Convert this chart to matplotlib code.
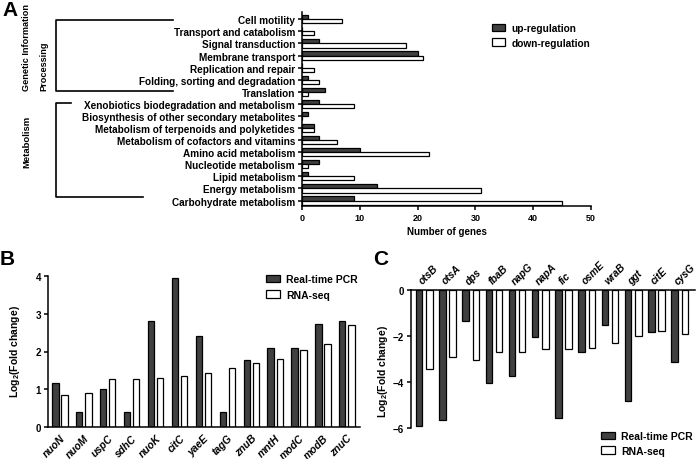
import matplotlib

matplotlib.use("Agg")
import matplotlib.pyplot as plt  # noqa: E402
import numpy as np  # noqa: E402
from matplotlib.lines import Line2D  # noqa: E402
from matplotlib.patches import Patch  # noqa: E402
from matplotlib.transforms import ScaledTranslation  # noqa: E402

W, H = 696, 460

# panel A: KEGG categories, top to bottom
KEGG_TERMS = [
    "Cell motility", "Transport and catabolism", "Signal transduction",
    "Membrane transport", "Replication and repair", "Folding, sorting and degradation",
    "Translation", "Xenobiotics biodegradation and metabolism",
    "Biosynthesis of other secondary metabolites", "Metabolism of terpenoids and polyketides",
    "Metabolism of cofactors and vitamins", "Amino acid metabolism", "Nucleotide metabolism",
    "Lipid metabolism", "Energy metabolism", "Carbohydrate metabolism",
]
KEGG_UP = [1, 0, 3, 20, 0, 1, 4, 3, 1, 2, 3, 10, 3, 1, 13, 9]
KEGG_DOWN = [7, 2, 18, 21, 2, 3, 1, 9, 0, 2, 6, 22, 1, 9, 31, 45]
A_TICKS = [0, 10, 20, 30, 40, 50]

# panel B: up-regulated genes
B_GENES = ["nuoN", "nuoM", "uspC", "sdhC", "nuoK", "citC", "yaeE",
           "tagG", "znuB", "mntH", "modC", "modB", "znuC"]
B_PCR = [1.17, 0.4, 1.0, 0.4, 2.8, 3.94, 2.41, 0.4, 1.77, 2.08, 2.1, 2.74, 2.82]
B_RNASEQ = [0.84, 0.9, 1.28, 1.28, 1.3, 1.36, 1.42, 1.56, 1.69, 1.81, 2.05, 2.19, 2.7]
B_TICKS = [0, 1, 2, 3, 4]

# panel C: down-regulated genes
C_GENES = ["otsB", "otsA", "dps", "fbaB", "napG", "napA", "fic",
           "osmE", "wraB", "ggt", "citE", "cysG"]
C_PCR = [-5.9, -5.65, -1.36, -4.03, -3.74, -2.06, -5.58, -2.68, -1.54, -4.81, -1.83, -3.13]
C_RNASEQ = [-3.43, -2.9, -3.04, -2.71, -2.71, -2.55, -2.57, -2.5, -2.3, -1.99, -1.8, -1.93]
C_TICKS = [0, -2, -4, -6]

DARK = "#404040"
EDGE = dict(edgecolor="black", linewidth=0.9)

plt.rcParams["font.family"] = ["Liberation Sans", "DejaVu Sans"]
plt.rcParams["font.weight"] = "bold"
plt.rcParams["axes.labelweight"] = "bold"
plt.rcParams["mathtext.fontset"] = "custom"
plt.rcParams["mathtext.rm"] = "Liberation Sans:bold"
plt.rcParams["mathtext.bf"] = "Liberation Sans:bold"
plt.rcParams["axes.linewidth"] = 1.1
plt.rcParams["xtick.major.width"] = 1.1
plt.rcParams["ytick.major.width"] = 1.1


def box(l, t, r, b):
    # pixel rectangle -> figure fraction [left, bottom, width, height]
    return [l / W, 1 - b / H, (r - l) / W, (b - t) / H]


def fx(x):
    return x / W


def fy(y):
    return 1 - y / H


def legend_handles(labels):
    return [Patch(facecolor=DARK, label=labels[0], **EDGE),
            Patch(facecolor="white", label=labels[1], **EDGE)]


fig = plt.figure(figsize=(W / 100, H / 100), dpi=100)

# ---------------- panel A ----------------
ax = fig.add_axes(box(302, 13, 591, 207))
n = len(KEGG_TERMS)
ypos = np.arange(n)[::-1]
ax.barh(ypos + 0.17, KEGG_UP, height=0.34, color=DARK, **EDGE)
ax.barh(ypos - 0.17, KEGG_DOWN, height=0.34, color="white", **EDGE)
ax.set_yticks(ypos)
ax.set_yticklabels(KEGG_TERMS, fontsize=7.2)
ax.set_xticks(A_TICKS)
ax.tick_params(axis="x", labelsize=6.5, length=3, pad=2)
ax.tick_params(axis="y", length=3, pad=2)
ax.set_xlim(0, 50)
ax.set_ylim(-0.45, 15.6)
ax.set_xlabel("Number of genes", fontsize=7, labelpad=3)
for s in ("top", "right"):
    ax.spines[s].set_visible(False)
ax.legend(handles=legend_handles(["up-regulation", "down-regulation"]),
          loc="upper left", bbox_to_anchor=(fx(492), fy(24)), bbox_transform=fig.transFigure,
          frameon=False, fontsize=7.3, handlelength=1.3, handleheight=0.7,
          handletextpad=0.6, labelspacing=0.45, borderpad=0, borderaxespad=0)

# category brackets
lw = 1.2
fig.add_artist(Line2D([fx(173), fx(56), fx(56), fx(173)], [fy(21), fy(21), fy(92), fy(92)],
                      transform=fig.transFigure, color="black", lw=lw))
fig.add_artist(Line2D([fx(71), fx(56), fx(56), fx(143)], [fy(104), fy(104), fy(198), fy(198)],
                      transform=fig.transFigure, color="black", lw=lw))
fig.text(fx(27), fy(91), "Genetic Information", rotation=90, ha="center", va="bottom", fontsize=6.6)
fig.text(fx(44), fy(91), "Processing", rotation=90, ha="center", va="bottom", fontsize=6.6)
fig.text(fx(27), fy(142), "Metabolism", rotation=90, ha="center", va="center", fontsize=6.8)
fig.text(fx(2), fy(1), "A", fontsize=15, ha="left", va="top")

# ---------------- panel B ----------------
ax = fig.add_axes(box(48, 277, 360, 428))
x = np.arange(len(B_GENES))
ax.bar(x - 0.19, B_PCR, width=0.26, color=DARK, **EDGE)
ax.bar(x + 0.19, B_RNASEQ, width=0.26, color="white", **EDGE)
ax.set_xlim(-0.5, 12.55)
ax.set_ylim(0, 4)
ax.set_yticks(B_TICKS)
ax.set_xticks(x)
ax.set_xticklabels(B_GENES, rotation=45, ha="right", va="top", rotation_mode="anchor",
                   fontstyle="italic", fontsize=7.5)
ax.tick_params(axis="x", length=0, pad=4)
ax.tick_params(axis="y", labelsize=7, length=3, pad=2)
for s in ("top", "right"):
    ax.spines[s].set_visible(False)
ax.legend(handles=legend_handles(["Real-time PCR", "RNA-seq"]),
          loc="upper left", bbox_to_anchor=(fx(266), fy(275)), bbox_transform=fig.transFigure,
          frameon=False, fontsize=7.5, handlelength=1.3, handleheight=0.7,
          handletextpad=0.6, labelspacing=0.55, borderpad=0, borderaxespad=0)
fig.text(fx(15), fy(352), r"Log$_\mathbf{2}$(Fold change)", rotation=90,
         ha="center", va="center", fontsize=7.5)
fig.text(fx(0), fy(250), "B", fontsize=15, ha="left", va="top")

# ---------------- panel C ----------------
ax = fig.add_axes(box(411, 291, 695, 429))
x = np.arange(len(C_GENES))
ax.bar(x - 0.22, C_PCR, width=0.28, color=DARK, **EDGE)
ax.bar(x + 0.22, C_RNASEQ, width=0.28, color="white", **EDGE)
ax.set_xlim(-0.57, 11.66)
ax.set_ylim(-6, 0)
ax.set_yticks(C_TICKS)
ax.set_xticks(x)
ax.xaxis.tick_top()
ax.set_xticklabels(C_GENES, rotation=45, ha="left", va="bottom", rotation_mode="anchor",
                   fontstyle="italic", fontsize=7.3)
# labels start at the dark bar, not at the group centre
shift = ScaledTranslation(-0.07, 0, fig.dpi_scale_trans)
for lbl in ax.get_xticklabels():
    lbl.set_transform(lbl.get_transform() + shift)
ax.tick_params(axis="x", length=0, pad=3)
ax.tick_params(axis="y", labelsize=7, length=3, pad=2)
for s in ("bottom", "right"):
    ax.spines[s].set_visible(False)
ax.legend(handles=legend_handles(["Real-time PCR", "RNA-seq"]),
          loc="upper left", bbox_to_anchor=(fx(601), fy(432)), bbox_transform=fig.transFigure,
          frameon=False, fontsize=7.5, handlelength=1.3, handleheight=0.7,
          handletextpad=0.6, labelspacing=0.45, borderpad=0, borderaxespad=0)
fig.text(fx(383), fy(372), r"Log$_\mathbf{2}$(Fold change)", rotation=90,
         ha="center", va="center", fontsize=7.5)
fig.text(fx(373), fy(250), "C", fontsize=15, ha="left", va="top")

fig.savefig("out.png", dpi=100)
